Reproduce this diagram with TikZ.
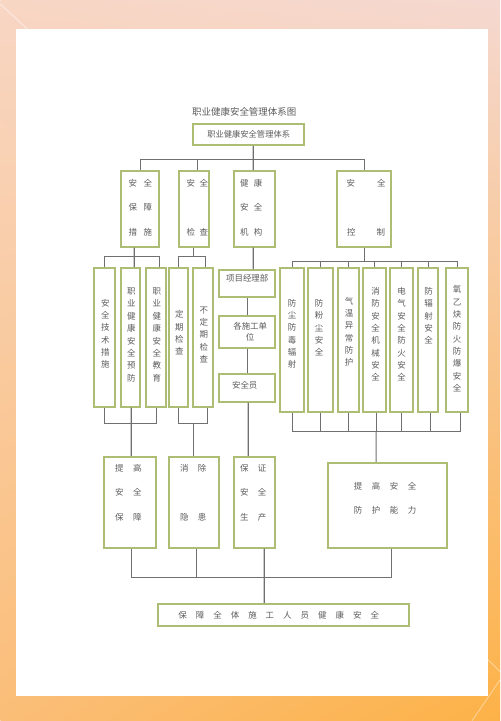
\documentclass[tikz,border=0pt]{standalone}
\usepackage{fontspec}
\newfontfamily\cjk{Noto Sans CJK SC}
\usetikzlibrary{calc,shadings}
\definecolor{boxc}{HTML}{ADBD74}
\definecolor{linec}{HTML}{707070}
\definecolor{txtc}{HTML}{5C5C5C}
\definecolor{bgUL}{HTML}{F8D6C4}
\definecolor{bgUR}{HTML}{F5D8D0}
\definecolor{bgLL}{HTML}{FBBE78}
\definecolor{bgLR}{HTML}{FDB247}
\newcommand{\gp}[1]{\hspace{#1bp}}
\begin{document}
\begin{tikzpicture}[x=1bp,y=-1bp,
  box/.style={draw=boxc,line width=1.7bp,inner sep=0pt},
  conn/.style={draw=linec,line width=1.1bp},
  txt/.style={text=txtc,inner sep=0pt,align=center,font=\cjk\fontsize{8.5}{12.4}\selectfont},
  wide/.style={font=\cjk\fontsize{8.5}{24.5}\selectfont}]
% background
\shade[upper left=bgUL, upper right=bgUR, lower left=bgLL, lower right=bgLR] (0,0) rectangle (500,721);
\draw[white,opacity=0.6,line width=0.7bp] (0,4) -- (27,29);
\draw[white,opacity=0.5,line width=0.7bp] (488,660) -- (500,672) (500,680) -- (472,721);
\fill[white] (16,29) rectangle (488,696);
\useasboundingbox (0,0) rectangle (500,721);

% title
\node[txt,font=\cjk\fontsize{9.5}{11}\selectfont] (title) at (244,112) {职业健康安全管理体系图};
\node[box,minimum width=111bp,minimum height=21bp,text=txtc,font=\cjk\fontsize{8.3}{10}\selectfont] (top) at (248.5,134.5) {职业健康安全管理体系};

% level 2
\node[box,minimum width=38bp,minimum height=76bp] (A) at (140,209) {};
\node[box,minimum width=30bp,minimum height=76bp] (B) at (194,209) {};
\node[box,minimum width=41bp,minimum height=76bp] (C) at (254.5,209) {};
\node[box,minimum width=54bp,minimum height=76bp] (D) at (364,209) {};
\node[txt,wide] (tA) at (140,207.5) {安\gp{6.5}全\\保\gp{6.5}障\\措\gp{6.5}施};
\node[txt,wide] (tB) at (197,207.5) {安\gp{4.5}全\\\mbox{}\\检\gp{4.5}查};
\node[txt,wide] (tC) at (251,207.5) {健\gp{5.5}康\\安\gp{5.5}全\\机\gp{5.5}构};
\node[txt,wide] (tD) at (366,207.5) {安\gp{22}全\\\mbox{}\\控\gp{21}制};

% level 3 left
\node[box,minimum width=21bp,minimum height=139bp] (L1) at (104.5,337.5) {};
\node[box,minimum width=19bp,minimum height=139bp] (L2) at (130.5,337.5) {};
\node[box,minimum width=20bp,minimum height=139bp] (L3) at (156,337.5) {};
\node[box,minimum width=19bp,minimum height=139bp] (L4) at (178.5,337.5) {};
\node[box,minimum width=20bp,minimum height=139bp] (L5) at (203,337.5) {};
\node[txt] (tL1) at (105,334) {安\\全\\技\\术\\措\\施};
\node[txt] (tL2) at (131,335) {职\\业\\健\\康\\安\\全\\预\\防};
\node[txt] (tL3) at (156.5,335) {职\\业\\健\\康\\安\\全\\教\\育};
\node[txt] (tL4) at (179,333) {定\\期\\检\\查};
\node[txt] (tL5) at (203.5,335) {不\\定\\期\\检\\查};

% organisation column
\node[box,minimum width=56bp,minimum height=27bp] (P) at (247,283.5) {};
\node[box,minimum width=56bp,minimum height=32bp] (Q) at (247,332) {};
\node[box,minimum width=56bp,minimum height=28bp] (R) at (247,388) {};
\node[txt] (tP) at (247,278.5) {项目经理部};
\node[txt,font=\cjk\fontsize{8.5}{10.5}\selectfont] (tQ) at (250,332) {各施工单\\位};
\node[txt] (tR) at (244.5,385) {安全员};

% level 3 right
\node[box,minimum width=24bp,minimum height=144bp] (S1) at (292,340) {};
\node[box,minimum width=25bp,minimum height=144bp] (S2) at (320.5,340) {};
\node[box,minimum width=21bp,minimum height=144bp] (S3) at (348.5,340) {};
\node[box,minimum width=23bp,minimum height=144bp] (S4) at (374.5,340) {};
\node[box,minimum width=23bp,minimum height=144bp] (S5) at (401.5,340) {};
\node[box,minimum width=20bp,minimum height=144bp] (S6) at (428,340) {};
\node[box,minimum width=22bp,minimum height=144bp] (S7) at (457,340) {};
\node[txt] (tS1) at (292,334) {防\\尘\\防\\毒\\辐\\射};
\node[txt] (tS2) at (319,328) {防\\粉\\尘\\安\\全};
\node[txt] (tS3) at (349,332) {气\\温\\异\\常\\防\\护};
\node[txt] (tS4) at (375.5,334.5) {消\\防\\安\\全\\机\\械\\安\\全};
\node[txt] (tS5) at (401.5,334.5) {电\\气\\安\\全\\防\\火\\安\\全};
\node[txt] (tS6) at (428.5,316) {防\\辐\\射\\安\\全};
\node[txt] (tS7) at (457,339) {氧\\乙\\炔\\防\\火\\防\\爆\\安\\全};

% level 4
\node[box,minimum width=52bp,minimum height=91bp] (E) at (130,502.5) {};
\node[box,minimum width=50bp,minimum height=91bp] (F) at (194,502.5) {};
\node[box,minimum width=41bp,minimum height=91bp] (G) at (254.5,502.5) {};
\node[box,minimum width=119bp,minimum height=85bp] (H) at (387.5,505.5) {};
\node[txt,font=\cjk\fontsize{8.5}{25}\selectfont] (tE) at (128,493) {提\gp{9.5}高\\安\gp{9.5}全\\保\gp{9.5}障};
\node[txt,font=\cjk\fontsize{8.5}{25}\selectfont] (tF) at (193,493) {消\gp{9.5}除\\\mbox{}\\隐\gp{9.5}患};
\node[txt,font=\cjk\fontsize{8.5}{25}\selectfont] (tG) at (253,493) {保\gp{9.5}证\\安\gp{9.5}全\\生\gp{9.5}产};
\node[txt,font=\cjk\fontsize{8.5}{25}\selectfont] (tH) at (385,498.5) {提\gp{9.5}高\gp{9.5}安\gp{9.5}全\\防\gp{9.5}护\gp{9.5}能\gp{9.5}力};

% bottom
\node[box,minimum width=251bp,minimum height=22bp] (Z) at (283.5,615) {};
\node[txt] (tZ) at (278.5,616) {保\gp{9}障\gp{9}全\gp{9}体\gp{9}施\gp{9}工\gp{9}人\gp{9}员\gp{9}健\gp{9}康\gp{9}安\gp{9}全};

% connectors
\coordinate (bus1) at (253,160);
\draw[conn] ([xshift=4.5bp]top.south) -- (bus1);
\draw[conn] (A.north) |- (bus1);
\draw[conn] (D.north) |- (bus1);
\draw[conn] ([xshift=3bp]B.north) -- ([xshift=3bp]B.north |- bus1);
\draw[conn] ([xshift=-1.5bp]C.north) -- (bus1);

\coordinate (busA) at (134,256.5);
\draw[conn] ([xshift=-6bp]A.south) -- (busA);
\draw[conn] (L1.north) |- (busA);
\draw[conn] ([xshift=3bp]L3.north) |- (busA);
\draw[conn] ([xshift=3.5bp]L2.north) -- (busA);

\coordinate (busB) at (193,256.5);
\draw[conn] ([xshift=-1bp]B.south) -- (busB);
\draw[conn] (L4.north) |- (busB);
\draw[conn] ([xshift=2bp]L5.north) |- (busB);

\coordinate (busE) at (131,424);
\draw[conn] (L1.south) |- (busE);
\draw[conn] (L3.south) |- (busE);
\draw[conn] ([xshift=0.5bp]L2.south) -- ([xshift=1bp]E.north);

\coordinate (busF) at (193,424);
\draw[conn] (L4.south) |- (busF);
\draw[conn] ([xshift=4bp]L5.south) |- (busF);
\draw[conn] (busF) -- ([xshift=-1bp]F.north);

\draw[conn] ([xshift=-1.5bp]C.south) -- ([xshift=6bp]P.north);
\draw[conn] (P.south) -- (Q.north);
\draw[conn] (Q.south) -- (R.north);
\draw[conn] ([xshift=1bp]R.south) -- ([xshift=-6.5bp]G.north);

\coordinate (busS) at (364,262);
\draw[conn] (D.south) -- (busS);
\foreach \s in {S1,S2,S3,S4,S5,S6,S7} \draw[conn] (\s.north) |- (busS);

\coordinate (busH) at (376,432);
\draw[conn] (S1.south) |- (busH);
\draw[conn] (S2.south) |- (busH);
\draw[conn] (S3.south) |- (busH);
\draw[conn] ([xshift=1.5bp]S4.south) -- (busH);
\draw[conn] (S5.south) |- (busH);
\draw[conn] ([xshift=2bp]S6.south) |- (busH);
\draw[conn] ([xshift=3bp]S7.south) |- (busH);
\draw[conn] (busH) -- ([xshift=-11.5bp]H.north);

\coordinate (busZ) at (264,577.5);
\draw[conn] ([xshift=1bp]E.south) |- (busZ);
\draw[conn] ([xshift=2bp]F.south) |- (busZ);
\draw[conn] ([xshift=3.5bp]H.south) |- (busZ);
\draw[conn] ([xshift=9.5bp]G.south) -- (busZ) -- ([xshift=-19.5bp]Z.north);
\end{tikzpicture}
\end{document}
